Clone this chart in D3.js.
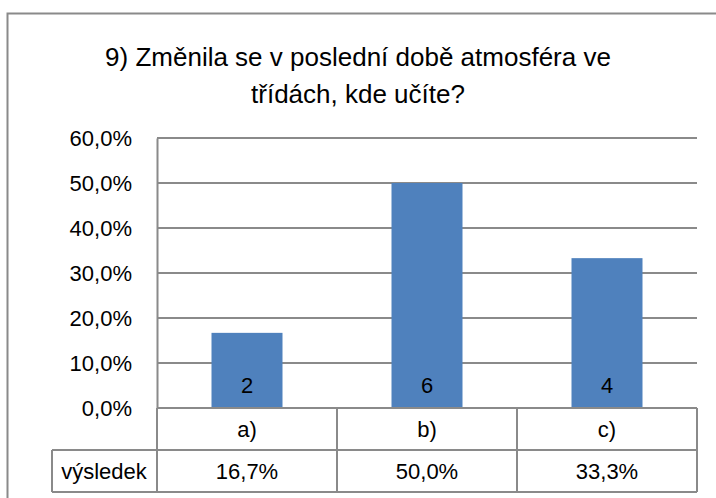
<!DOCTYPE html>
<html>
<head>
<meta charset="utf-8">
<script src="https://cdn.jsdelivr.net/npm/d3@7"></script>
<style>
  body { margin: 0; background: #fff; }
  text { font-family: "Liberation Sans", Arial, sans-serif; fill: #000; }
</style>
</head>
<body>
<div id="chart"></div>
<script>
// data
const categories = ["a)", "b)", "c)"];
const shares = [0.167, 0.5, 0.333];
const counts = [2, 6, 4];
const seriesName = "výsledek";
const titleLines = ["9) Změnila se v poslední době atmosféra ve", "třídách, kde učíte?"];
const yTicks = [0, 0.1, 0.2, 0.3, 0.4, 0.5, 0.6];

const W = 716, H = 498;
const plot = { left: 157, right: 697, top: 138, bottom: 408 };
const rowH = 42;
const gridColor = "#8a8a8a";
const fs = "22px";
const fmt = v => d3.format(".1f")(v * 100).replace(".", ",") + "%";

const svg = d3.select("#chart").append("svg")
  .attr("width", W)
  .attr("height", H);

// ramecek grafu (orezany vpravo a dole)
svg.append("path")
  .attr("d", `M7.5,${H + 5}V13.5H${W + 5}`)
  .attr("fill", "none")
  .attr("stroke", gridColor)
  .attr("stroke-width", 2);

// titulek
svg.append("g").selectAll("text")
  .data(titleLines)
  .join("text")
  .attr("x", 358)
  .attr("y", (d, i) => 66 + i * 37)
  .attr("text-anchor", "middle")
  .style("font-size", "26px")
  .text(d => d);

const x = d3.scaleBand().domain(categories).range([plot.left, plot.right]);
const y = d3.scaleLinear().domain([0, 0.6]).range([plot.bottom, plot.top]);

// mrizka
svg.append("g").selectAll("line")
  .data(yTicks)
  .join("line")
  .attr("x1", plot.left).attr("x2", plot.right)
  .attr("y1", d => y(d)).attr("y2", d => y(d))
  .attr("stroke", gridColor)
  .attr("stroke-width", 2);

// osa y
const yAxis = svg.append("g")
  .attr("transform", `translate(${plot.left},0)`)
  .call(d3.axisLeft(y).tickValues(yTicks).tickFormat(fmt).tickSize(0).tickPadding(25));
yAxis.select(".domain").attr("stroke", gridColor).attr("stroke-width", 2);
yAxis.selectAll("text").style("font-size", fs);

// sloupce
const barW = 71;
svg.append("g").selectAll("rect")
  .data(categories)
  .join("rect")
  .attr("x", d => x(d) + (x.bandwidth() - barW) / 2)
  .attr("width", barW)
  .attr("y", (d, i) => y(shares[i]))
  .attr("height", (d, i) => y(0) - y(shares[i]))
  .attr("fill", "#4f81bd");

// popisky v sloupcich
svg.append("g").selectAll("text")
  .data(categories)
  .join("text")
  .attr("x", d => x(d) + x.bandwidth() / 2)
  .attr("y", y(0) - 15)
  .attr("text-anchor", "middle")
  .style("font-size", fs)
  .text((d, i) => counts[i]);

// tabulka dat
const t = svg.append("g")
  .attr("stroke", gridColor)
  .attr("stroke-width", 2)
  .attr("fill", "none");
const r1 = plot.bottom, r2 = plot.bottom + rowH, r3 = plot.bottom + 2 * rowH;
t.append("line").attr("x1", plot.left).attr("x2", plot.right).attr("y1", r1).attr("y2", r1);
t.append("line").attr("x1", 52).attr("x2", plot.right).attr("y1", r2).attr("y2", r2);
t.append("line").attr("x1", 52).attr("x2", plot.right).attr("y1", r3).attr("y2", r3);
t.append("line").attr("x1", 52).attr("x2", 52).attr("y1", r2).attr("y2", r3);
t.selectAll(".col")
  .data(categories.map(c => x(c)).concat([plot.right]))
  .join("line")
  .attr("class", "col")
  .attr("x1", d => d).attr("x2", d => d)
  .attr("y1", r1).attr("y2", r3);

svg.append("g").selectAll("text")
  .data(categories)
  .join("text")
  .attr("x", d => x(d) + x.bandwidth() / 2)
  .attr("y", r1 + rowH / 2 + 8)
  .attr("text-anchor", "middle")
  .style("font-size", fs)
  .text(d => d);

svg.append("g").selectAll("text")
  .data(categories)
  .join("text")
  .attr("x", d => x(d) + x.bandwidth() / 2)
  .attr("y", r2 + rowH / 2 + 8)
  .attr("text-anchor", "middle")
  .style("font-size", fs)
  .text((d, i) => fmt(shares[i]));

svg.append("text")
  .attr("x", 104)
  .attr("y", r2 + rowH / 2 + 8)
  .attr("text-anchor", "middle")
  .style("font-size", fs)
  .text(seriesName);
</script>
</body>
</html>
